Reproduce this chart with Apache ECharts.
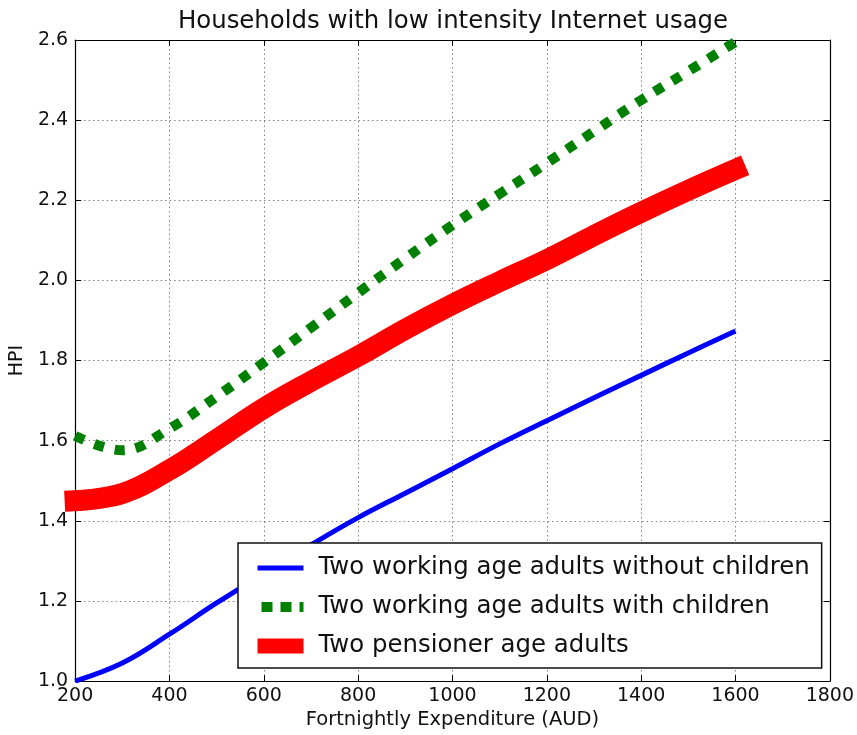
<!DOCTYPE html>
<html>
<head>
<meta charset="utf-8">
<script src="https://cdn.jsdelivr.net/npm/echarts@6/dist/echarts.min.js"></script>
<style>
  html, body { margin: 0; padding: 0; background: #fff; }
  #chart { width: 857px; height: 735px; }
</style>
</head>
<body>
<div id="chart"></div>
<script>
// Fortnightly expenditure (AUD) at which each household type is sampled
const expenditure = [200, 300, 400, 500, 600, 700, 800, 900, 1000, 1100, 1200, 1300, 1400, 1500, 1600];

// HPI per household type
const hpiWorkingNoChildren   = [1.000, 1.045, 1.117, 1.195, 1.268, 1.340, 1.408, 1.469, 1.530, 1.592, 1.650, 1.707, 1.763, 1.819, 1.874];
const hpiWorkingWithChildren = [1.612, 1.576, 1.630, 1.710, 1.795, 1.882, 1.969, 2.055, 2.138, 2.216, 2.293, 2.372, 2.450, 2.522, 2.595];
const hpiPensioners          = [1.450, 1.468, 1.527, 1.603, 1.681, 1.748, 1.811, 1.878, 1.940, 1.997, 2.052, 2.112, 2.170, 2.225, 2.277];

const seriesNames = [
  'Two working age adults without children',
  'Two working age adults with children',
  'Two pensioner age adults'
];

// Axis ranges and tick steps
const xRange = [200, 1800];
const xStep = 200;
const yRange = [1.0, 2.6];
const yStep = 0.2;

const FONT = 'DejaVu Sans';

function pairs(xs, ys) {
  return xs.map((x, i) => [x, ys[i]]);
}

const chart = echarts.init(document.getElementById('chart'), null, { renderer: 'canvas' });

const gridLine = { show: true, lineStyle: { color: '#808080', width: 1, type: [1.5, 3] } };
const frameLine = { show: true, onZero: false, lineStyle: { color: '#000', width: 1.2 } };
const innerTick = { show: true, inside: true, length: 6, lineStyle: { color: '#000', width: 1 } };

chart.setOption({
  animation: false,
  backgroundColor: '#fff',
  title: {
    text: 'Households with low intensity Internet usage',
    left: 448,
    textAlign: 'center',
    top: 5,
    textStyle: { fontFamily: FONT, fontSize: 24.4, fontWeight: 'normal', color: '#111' }
  },
  grid: { left: 75, right: 26, top: 40, bottom: 53, containLabel: false },
  xAxis: [
    {
      type: 'value',
      min: xRange[0], max: xRange[1], interval: xStep,
      position: 'bottom',
      name: 'Fortnightly Expenditure (AUD)',
      nameLocation: 'middle',
      nameGap: 25,
      nameTextStyle: { fontFamily: FONT, fontSize: 19.5, color: '#111', verticalAlign: 'top' },
      axisLine: frameLine,
      axisTick: innerTick,
      axisLabel: { fontFamily: FONT, fontSize: 19, color: '#111', margin: 5, formatter: v => String(v) },
      splitLine: gridLine
    },
    {
      type: 'value',
      min: xRange[0], max: xRange[1], interval: xStep,
      position: 'top',
      axisLine: frameLine,
      axisTick: innerTick,
      axisLabel: { show: false },
      splitLine: { show: false }
    }
  ],
  yAxis: [
    {
      type: 'value',
      min: yRange[0], max: yRange[1], interval: yStep,
      position: 'left',
      name: 'HPI',
      nameLocation: 'middle',
      nameGap: 37,
      nameTextStyle: { fontFamily: FONT, fontSize: 19, color: '#111' },
      axisLine: frameLine,
      axisTick: innerTick,
      axisLabel: {
        fontFamily: FONT, fontSize: 19, color: '#111', margin: 7,
        formatter: v => v.toFixed(1)
      },
      splitLine: gridLine
    },
    {
      type: 'value',
      min: yRange[0], max: yRange[1], interval: yStep,
      position: 'right',
      axisLine: frameLine,
      axisTick: innerTick,
      axisLabel: { show: false },
      splitLine: { show: false }
    }
  ],
  legend: {
    orient: 'vertical',
    left: 238,
    top: 543,
    padding: [11, 12, 8, 12],
    itemWidth: 46,
    itemHeight: 15,
    itemGap: 11,
    backgroundColor: '#fff',
    borderColor: '#111',
    borderWidth: 1.5,
    borderRadius: 0,
    selectedMode: false,
    textStyle: { fontFamily: FONT, fontSize: 24.4, lineHeight: 28, color: '#111', padding: [0, 0, 0, 10] },
    data: [
      { name: seriesNames[0], itemStyle: { opacity: 0 }, lineStyle: { width: 5, color: '#0000ff', type: 'solid' } },
      { name: seriesNames[1], itemStyle: { opacity: 0 }, lineStyle: { width: 10, color: '#008000', type: [11, 8], dashOffset: 15, cap: 'butt' } },
      { name: seriesNames[2], itemStyle: { opacity: 0 }, lineStyle: { width: 15, color: '#ff0000', type: 'solid', cap: 'butt' } }
    ]
  },
  series: [
    {
      name: seriesNames[0],
      type: 'line',
      data: pairs(expenditure, hpiWorkingNoChildren),
      smooth: 0.4,
      showSymbol: false,
      symbol: 'none',
      color: '#0000ff',
      lineStyle: { width: 5, color: '#0000ff' },
      z: 3
    },
    {
      name: seriesNames[1],
      type: 'line',
      data: pairs(expenditure, hpiWorkingWithChildren),
      smooth: 0.4,
      showSymbol: false,
      symbol: 'none',
      color: '#008000',
      lineStyle: { width: 10, color: '#008000', type: [10, 11], cap: 'butt' },
      z: 4
    },
    {
      name: seriesNames[2],
      type: 'line',
      data: pairs(expenditure, hpiPensioners),
      smooth: 0.4,
      showSymbol: false,
      symbol: 'none',
      color: '#ff0000',
      lineStyle: { width: 21, color: '#ff0000', cap: 'square', join: 'miter' },
      z: 5
    }
  ]
});
</script>
</body>
</html>
